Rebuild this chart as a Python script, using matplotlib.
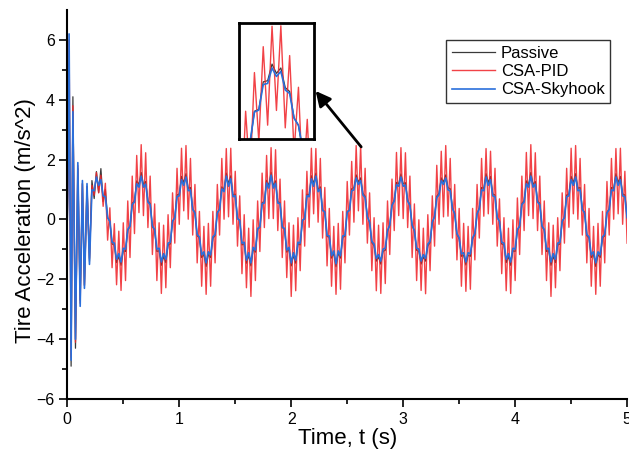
import numpy as np
import matplotlib.pyplot as plt

plt.rcParams['font.family'] = ['Liberation Sans', 'DejaVu Sans']

# start-up transient (s)
t_start = [0.0, 0.008, 0.016, 0.034, 0.05, 0.073, 0.094, 0.115, 0.135, 0.153, 0.176, 0.198]
passive_start = [0, 1.5, 5.2, -4.9, 4.1, -4.3, 1.7, -2.7, 1.2, -2.2, 1.1, -1.4]
pid_start = [0, 2.0, 6.0, -4.6, 3.8, -4.1, 1.8, -2.8, 1.2, -2.2, 1.1, -1.3]
sky_start = [0, 2.0, 6.2, -4.7, 3.6, -4.0, 1.9, -2.9, 1.3, -2.3, 1.2, -1.5]

# steady part, sampled every 0.02 s from 0.22 s to 5.0 s
t_steady = np.round(0.22 + 0.02 * np.arange(240), 3)

passive = [
    1.30, 0.70, 1.60, 0.90, 1.70, 0.60, 1.00, 0.06, -0.06, -0.82, -0.85, -1.44, -1.23, -1.53, -1.04, -1.07,
    -0.36, -0.24, 0.54, 0.63, 1.29, 1.17, 1.57, 1.17, 1.27, 0.63, 0.54, -0.24, -0.36, -1.07, -1.04, -1.53,
    -1.23, -1.44, -0.85, -0.82, -0.06, 0.06, 0.82, 0.85, 1.44, 1.23, 1.53, 1.04, 1.07, 0.36, 0.24, -0.54,
    -0.63, -1.27, -1.17, -1.57, -1.17, -1.27, -0.63, -0.54, 0.24, 0.36,
    1.09, 1.00, 1.55, 1.19, 1.46, 0.81, 0.85, 0.03, -0.03, -0.85, -0.81, -1.46, -1.19, -1.55, -1.00, -1.09,
    -0.32, -0.27, 0.57, 0.59, 1.31, 1.12, 1.58, 1.12, 1.29, 0.59, 0.57, -0.27, -0.32, -1.09, -1.00, -1.55,
    -1.19, -1.46, -0.81, -0.85, -0.03, 0.03, 0.85, 0.81, 1.46, 1.19, 1.55, 1.00, 1.09, 0.32, 0.27, -0.57,
    -0.59, -1.29, -1.12, -1.58, -1.12, -1.29, -0.59, -0.57, 0.27, 0.32,
    1.03, 1.06, 1.49, 1.25, 1.39, 0.88, 0.78, 0.10, -0.10, -0.78, -0.88, -1.39, -1.25, -1.49, -1.06, -1.03,
    -0.39, -0.20, 0.50, 0.65, 1.24, 1.19, 1.52, 1.19, 1.23, 0.65, 0.50, -0.20, -0.39, -1.03, -1.06, -1.49,
    -1.25, -1.39, -0.88, -0.78, -0.10, 0.10, 0.78, 0.88, 1.39, 1.25, 1.49, 1.06, 1.03, 0.39, 0.20, -0.50,
    -0.65, -1.23, -1.19, -1.52, -1.19, -1.23, -0.65, -0.50, 0.20, 0.39,
    1.07, 1.04, 1.53, 1.23, 1.44, 0.85, 0.82, 0.06, -0.06, -0.82, -0.85, -1.44, -1.23, -1.53, -1.04, -1.07,
    -0.36, -0.24, 0.54, 0.63, 1.29, 1.17, 1.57, 1.17, 1.27, 0.63, 0.54, -0.24, -0.36, -1.07, -1.04, -1.53,
    -1.23, -1.44, -0.85, -0.82, -0.06, 0.06, 0.82, 0.85, 1.44, 1.23, 1.53, 1.04, 1.07, 0.36, 0.24, -0.54,
    -0.63, -1.27, -1.17, -1.57, -1.17, -1.27, -0.63, -0.54, 0.24, 0.36,
    1.07, 1.04, 1.53, 1.23, 1.44, 0.85, 0.82, 0.06,
]

csa_pid = [
    1.14, 0.81, 1.57, 0.89, 1.48, 0.44, 1.21, -0.69, 0.39, -1.61, -0.14, -2.18, -0.39, -2.37, -0.11, -2.04,
    0.62, -1.27, 1.45, -0.47, 2.14, 0.23, 2.50, 0.13, 2.23, -0.27, 1.45, -1.17, 0.52, -2.04, -0.11, -2.47,
    -0.19, -2.28, 0.16, -1.61, 0.89, -0.79, 1.71, -0.16, 2.38, 0.29, 2.47, 0.01, 2.04, -0.52, 1.17, -1.45,
    0.27, -2.23, -0.23, -2.50, -0.13, -2.23, 0.27, -1.45, 1.17, -0.52,
    2.04, 0.01, 2.37, 0.09, 2.38, -0.16, 1.61, -0.89, 0.79, -1.81, 0.16, -2.28, -0.29, -2.57, -0.01, -2.04,
    0.62, -1.07, 1.55, -0.27, 2.14, 0.03, 2.40, 0.03, 2.33, -0.37, 1.35, -1.27, 0.62, -1.94, -0.11, -2.57,
    -0.19, -2.38, 0.06, -1.71, 0.99, -0.89, 1.61, -0.26, 2.38, 0.19, 2.37, -0.09, 2.04, -0.62, 1.07, -1.55,
    0.37, -2.23, -0.23, -2.50, -0.13, -2.33, 0.27, -1.45, 1.27, -0.52,
    1.94, -0.09, 2.47, 0.29, 2.48, -0.16, 1.71, -0.79, 0.89, -1.71, 0.06, -2.38, -0.19, -2.47, -0.11, -2.14,
    0.62, -1.17, 1.35, -0.37, 2.24, 0.13, 2.40, 0.03, 2.23, -0.27, 1.45, -1.27, 0.52, -2.04, -0.01, -2.37,
    -0.29, -2.48, 0.16, -1.71, 0.79, -0.89, 1.81, -0.16, 2.28, 0.09, 2.47, 0.11, 2.04, -0.62, 1.17, -1.35,
    0.37, -2.23, -0.13, -2.40, -0.23, -2.33, 0.37, -1.35, 1.17, -0.62,
    2.04, 0.11, 2.37, 0.19, 2.28, -0.16, 1.71, -0.89, 0.69, -1.81, 0.06, -2.38, -0.29, -2.47, -0.01, -2.04,
    0.72, -1.17, 1.45, -0.37, 2.24, 0.13, 2.50, 0.03, 2.23, -0.37, 1.45, -1.17, 0.62, -2.04, -0.11, -2.57,
    -0.19, -2.28, 0.06, -1.71, 0.89, -0.79, 1.71, -0.26, 2.38, 0.19, 2.47, 0.01, 2.04, -0.52, 1.17, -1.45,
    0.37, -2.23, -0.23, -2.50, -0.13, -2.23, 0.27, -1.45, 1.27, -0.52,
    2.04, 0.01, 2.37, 0.19, 2.38, -0.16, 1.61, -0.79,
]

csa_skyhook = [
    0.99, 0.96, 1.42, 1.14, 1.33, 0.79, 0.76, 0.06, -0.06, -0.76, -0.79, -1.33, -1.14, -1.42, -0.96, -0.99,
    -0.33, -0.22, 0.50, 0.58, 1.19, 1.08, 1.45, 1.08, 1.18, 0.58, 0.50, -0.22, -0.33, -0.99, -0.96, -1.42,
    -1.14, -1.33, -0.79, -0.76, -0.06, 0.06, 0.76, 0.79, 1.33, 1.14, 1.42, 0.96, 0.99, 0.33, 0.22, -0.50,
    -0.58, -1.18, -1.08, -1.45, -1.08, -1.18, -0.58, -0.50, 0.22, 0.33,
    1.02, 0.93, 1.45, 1.11, 1.36, 0.76, 0.79, 0.03, -0.03, -0.79, -0.76, -1.36, -1.11, -1.45, -0.93, -1.02,
    -0.30, -0.25, 0.53, 0.55, 1.22, 1.05, 1.48, 1.05, 1.21, 0.55, 0.53, -0.25, -0.30, -1.02, -0.93, -1.45,
    -1.11, -1.36, -0.76, -0.79, -0.03, 0.03, 0.79, 0.76, 1.36, 1.11, 1.45, 0.93, 1.02, 0.30, 0.25, -0.53,
    -0.55, -1.21, -1.05, -1.48, -1.05, -1.21, -0.55, -0.53, 0.25, 0.30,
    0.96, 0.99, 1.39, 1.17, 1.30, 0.82, 0.73, 0.09, -0.09, -0.73, -0.82, -1.30, -1.17, -1.39, -0.99, -0.96,
    -0.36, -0.19, 0.47, 0.61, 1.16, 1.11, 1.42, 1.11, 1.15, 0.61, 0.47, -0.19, -0.36, -0.96, -0.99, -1.39,
    -1.17, -1.30, -0.82, -0.73, -0.09, 0.09, 0.73, 0.82, 1.30, 1.17, 1.39, 0.99, 0.96, 0.36, 0.19, -0.47,
    -0.61, -1.15, -1.11, -1.42, -1.11, -1.15, -0.61, -0.47, 0.19, 0.36,
    0.99, 0.96, 1.42, 1.14, 1.33, 0.79, 0.76, 0.06, -0.06, -0.76, -0.79, -1.33, -1.14, -1.42, -0.96, -0.99,
    -0.33, -0.22, 0.50, 0.58, 1.19, 1.08, 1.45, 1.08, 1.18, 0.58, 0.50, -0.22, -0.33, -0.99, -0.96, -1.42,
    -1.14, -1.33, -0.79, -0.76, -0.06, 0.06, 0.76, 0.79, 1.33, 1.14, 1.42, 0.96, 0.99, 0.33, 0.22, -0.50,
    -0.58, -1.18, -1.08, -1.45, -1.08, -1.18, -0.58, -0.50, 0.22, 0.33,
    0.99, 0.96, 1.42, 1.14, 1.33, 0.79, 0.76, 0.06,
]

t = np.concatenate([t_start, t_steady])
y_passive = np.concatenate([passive_start, passive])
y_pid = np.concatenate([pid_start, csa_pid])
y_sky = np.concatenate([sky_start, csa_skyhook])

c_passive, c_pid, c_sky = '#3a3a3a', '#f0282d', '#2a6fdb'

fig = plt.figure(figsize=(6.29, 4.53), dpi=100)
ax = fig.add_axes([0.107, 0.119, 0.890, 0.859])

ax.plot(t, y_passive, color=c_passive, lw=0.9, label='Passive')
ax.plot(t, y_pid, color=c_pid, lw=1.0, alpha=0.88, label='CSA-PID')
ax.plot(t, y_sky, color=c_sky, lw=1.2, label='CSA-Skyhook')

ax.set_xlim(0, 5)
ax.set_ylim(-6, 7)
ax.set_xticks([0, 1, 2, 3, 4, 5])
ax.set_xticks(np.arange(0.5, 5, 1), minor=True)
ax.set_yticks([-6, -4, -2, 0, 2, 4, 6])
ax.set_yticks([-5, -3, -1, 1, 3, 5], minor=True)
ax.tick_params(which='major', direction='out', length=6, width=1.2, labelsize=11.5, pad=3)
ax.tick_params(which='minor', direction='out', length=3.5, width=1.2)
for s in ['top', 'right']:
    ax.spines[s].set_visible(False)
for s in ['left', 'bottom']:
    ax.spines[s].set_linewidth(1.5)

ax.set_xlabel('Time, t (s)', fontsize=16, labelpad=1)
ax.set_ylabel('Tire Acceleration (m/s^2)', fontsize=16)
ax.yaxis.set_label_coords(-0.056, 0.46)

leg = ax.legend(loc='upper right', bbox_to_anchor=(0.970, 0.923), borderaxespad=0, fontsize=12,
                frameon=True, fancybox=False, edgecolor='black', handlelength=2.6,
                labelspacing=0.2, borderpad=0.35, handletextpad=0.35)
leg.get_frame().set_linewidth(1.0)

# zoomed inset around one peak
axins = fig.add_axes([0.380, 0.693, 0.119, 0.256])
axins.plot(t, y_passive, color=c_passive, lw=0.9)
axins.plot(t, y_pid, color=c_pid, lw=1.0, alpha=0.88)
axins.plot(t, y_sky, color=c_sky, lw=1.2)
axins.set_xlim(2.43, 2.77)
axins.set_ylim(-0.45, 2.55)
axins.set_xticks([])
axins.set_yticks([])
for s in axins.spines.values():
    s.set_linewidth(2)

ax.annotate('', xy=(0.499, 0.804), xytext=(0.577, 0.671),
            xycoords='figure fraction', textcoords='figure fraction',
            arrowprops=dict(arrowstyle='-|>,head_length=0.9,head_width=0.45',
                            color='black', lw=2))

fig.savefig('out.png', dpi=100)
